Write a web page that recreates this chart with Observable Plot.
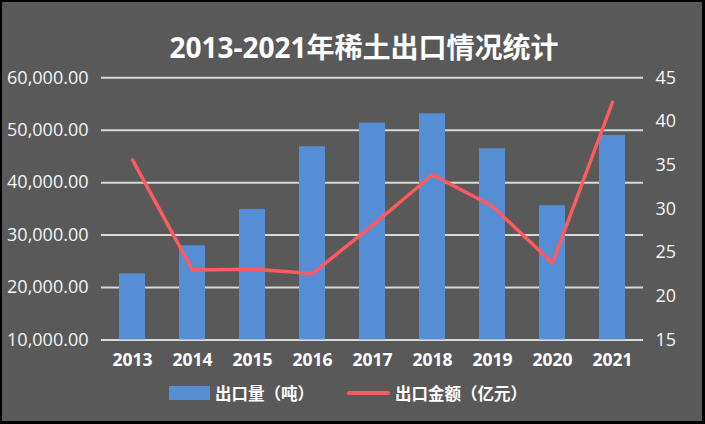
<!DOCTYPE html>
<html>
<head>
<meta charset="utf-8">
<script src="https://cdn.jsdelivr.net/npm/d3@7"></script>
<script src="https://cdn.jsdelivr.net/npm/@observablehq/plot@0.6"></script>
<style>
  html, body { margin: 0; padding: 0; background: #000; }
  #wrap { position: relative; width: 705px; height: 424px; background: #000; overflow: hidden;
          font-family: "Open Sans", "Noto Sans CJK SC", sans-serif; }
  #panel { position: absolute; left: 2px; top: 2px; width: 700px; height: 419px; background: #595959; }
  #title { position: absolute; top: 27px; left: 364px; transform: translateX(-50%); white-space: nowrap;
           color: #fff; font-size: 28px; font-weight: bold; line-height: 40px; }
  #chart { position: absolute; left: 0; top: 0; }
  .leg { position: absolute; top: 382px; height: 22px; display: flex; align-items: center; color: #fff;
         font-family: "Noto Sans CJK SC", sans-serif; font-weight: bold; font-size: 16.5px; white-space: nowrap; }
  .sw-bar { width: 41px; height: 14px; background: #558ed5; margin-right: 5px; }
  .sw-line { width: 43px; height: 4px; border-radius: 2px; background: #ff5a5f; margin-right: 5px; }
</style>
</head>
<body>
<div id="wrap">
  <div id="panel"></div>
  <div id="title">2013-2021年稀土出口情况统计</div>
  <div id="chart"></div>
  <div class="leg" style="left:169px"><span class="sw-bar"></span><span>出口量（吨）</span></div>
  <div class="leg" style="left:347px"><span class="sw-line"></span><span>出口金额（亿元）</span></div>
</div>
<script>
const years = ["2013","2014","2015","2016","2017","2018","2019","2020","2021"];
const exportVolume = [22600, 27950, 34900, 46850, 51350, 53150, 46450, 35600, 49000]; // 吨
const exportValue = [35.6, 23.0, 23.1, 22.6, 28.1, 33.9, 30.3, 23.8, 42.2];            // 亿元
const leftTicks = [10000, 20000, 30000, 40000, 50000, 60000];
const rightTicks = [15, 20, 25, 30, 35, 40, 45];

const data = years.map((y, i) => ({year: y, volume: exportVolume[i], value: exportValue[i]}));

// map right-axis values (15–45) onto the left-axis domain (10,000–60,000)
const lDom = [leftTicks[0], leftTicks[leftTicks.length - 1]];
const rDom = [rightTicks[0], rightTicks[rightTicks.length - 1]];
const toLeft = v => lDom[0] + (v - rDom[0]) * (lDom[1] - lDom[0]) / (rDom[1] - rDom[0]);
const toRight = v => rDom[0] + (v - lDom[0]) * (rDom[1] - rDom[0]) / (lDom[1] - lDom[0]);

const chart = Plot.plot({
  width: 705,
  height: 372,
  marginTop: 77.3,
  marginBottom: 32.6,
  marginLeft: 101,
  marginRight: 62,
  style: {background: "transparent", color: "#f5f5f5", fontFamily: "'Open Sans', 'Noto Sans CJK SC', sans-serif", fontSize: "18px"},
  x: {domain: years, paddingInner: 0.57, paddingOuter: 0.285},
  y: {domain: lDom},
  marks: [
    Plot.ruleY(leftTicks, {stroke: "#d9d9d9", strokeWidth: 2}),
    Plot.barY(data, {x: "year", y1: lDom[0], y2: "volume", fill: "#558ed5"}),
    Plot.lineY(data, {x: "year", y: d => toLeft(d.value), stroke: "#ff5a5f", strokeWidth: 3.5, strokeLinecap: "round", strokeLinejoin: "round"}),
    Plot.axisY(leftTicks, {anchor: "left", tickSize: 0, tickPadding: 13, tickFormat: d3.format(",.2f"), label: null, fontSize: 18}),
    Plot.axisY(rightTicks.map(toLeft), {anchor: "right", tickSize: 0, tickPadding: 12, tickFormat: d => String(Math.round(toRight(d))), label: null, fontSize: 18}),
    Plot.axisX({tickSize: 0, tickPadding: 14, label: null, fontWeight: "bold", fontSize: 17.5, fill: "#fff"})
  ]
});
document.getElementById("chart").appendChild(chart);
</script>
</body>
</html>
